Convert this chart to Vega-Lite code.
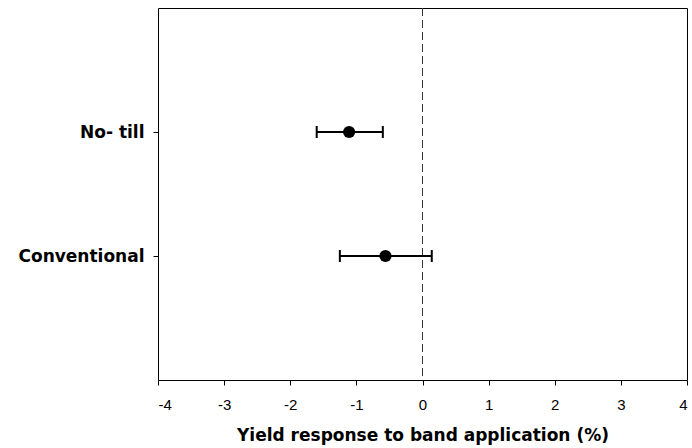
{
  "$schema": "https://vega.github.io/schema/vega-lite/v6.json",
  "autosize": "none",
  "width": 529,
  "height": 372,
  "padding": {"left": 158, "top": 8, "right": 5, "bottom": 68},
  "background": "white",
  "config": {
    "font": "Liberation Sans",
    "view": {"stroke": "black", "strokeWidth": 1}
  },
  "data": {
    "values": [
      {"practice": "No- till", "mean": -1.11, "lo": -1.6, "hi": -0.6},
      {"practice": "Conventional", "mean": -0.56, "lo": -1.25, "hi": 0.14}
    ]
  },
  "encoding": {
    "y": {
      "field": "practice",
      "type": "nominal",
      "sort": ["No- till", "Conventional"],
      "scale": {"type": "point", "padding": 1},
      "axis": {
        "title": null,
        "domain": false,
        "ticks": true,
        "tickSize": 5,
        "tickColor": "black",
        "labelFont": "DejaVu Sans",
        "labelFontSize": 17,
        "labelFontWeight": "bold",
        "labelColor": "black",
        "labelPadding": 9
      }
    }
  },
  "layer": [
    {
      "mark": {"type": "rule", "strokeDash": [8, 4], "color": "#333", "strokeWidth": 1},
      "encoding": {"x": {"datum": 0, "type": "quantitative"}, "y": null}
    },
    {
      "mark": {"type": "rule", "color": "black", "strokeWidth": 2},
      "encoding": {
        "x": {
          "field": "lo",
          "type": "quantitative",
          "scale": {"domain": [-4, 4], "nice": false, "zero": false},
          "axis": {
            "title": "Yield response to band application (%)",
            "titleFont": "DejaVu Sans",
            "titleFontSize": 17,
            "titleFontWeight": "bold",
            "titleColor": "black",
            "titlePadding": 15,
            "values": [-4, -3, -2, -1, 0, 1, 2, 3, 4],
            "labelExpr": "'' + datum.value",
            "grid": false,
            "domain": false,
            "tickSize": 5,
            "tickColor": "black",
            "labelFont": "Liberation Sans",
            "labelFontSize": 15,
            "labelColor": "black",
            "labelPadding": 12
          }
        },
        "x2": {"field": "hi"}
      }
    },
    {
      "mark": {"type": "tick", "color": "black", "thickness": 2, "size": 12, "opacity": 1},
      "encoding": {"x": {"field": "lo", "type": "quantitative"}}
    },
    {
      "mark": {"type": "tick", "color": "black", "thickness": 2, "size": 12, "opacity": 1},
      "encoding": {"x": {"field": "hi", "type": "quantitative"}}
    },
    {
      "mark": {"type": "point", "filled": true, "color": "black", "size": 150, "opacity": 1},
      "encoding": {"x": {"field": "mean", "type": "quantitative"}}
    }
  ]
}
